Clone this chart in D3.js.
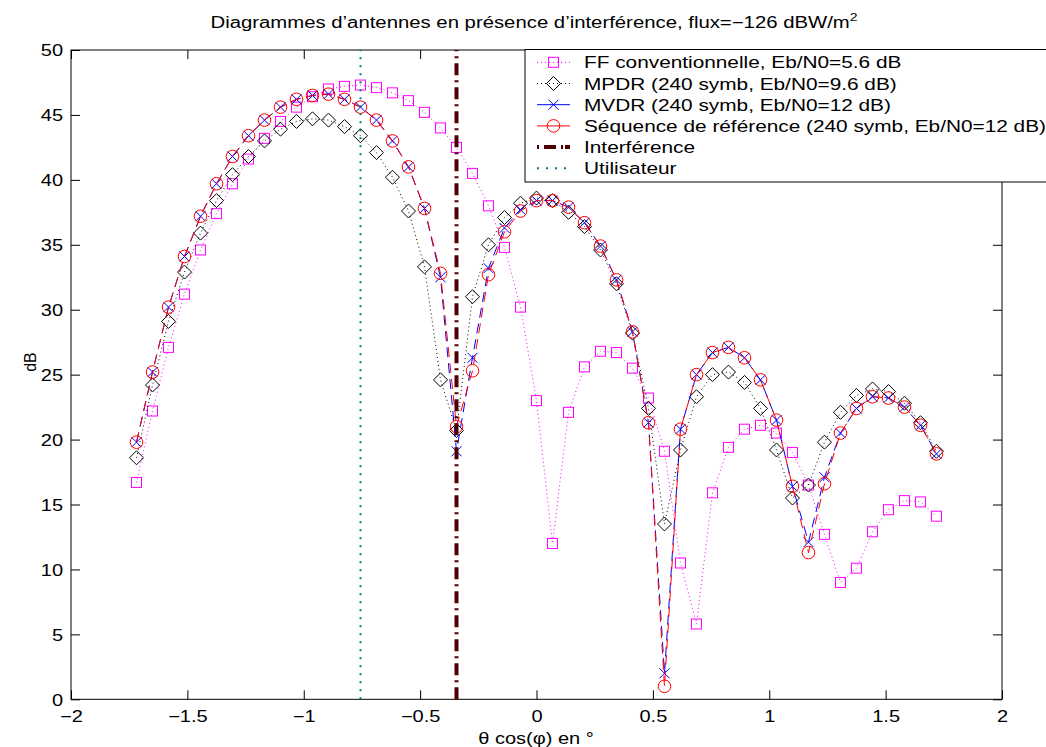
<!DOCTYPE html>
<html><head><meta charset="utf-8">
<script src="https://cdn.jsdelivr.net/npm/d3@7"></script>
<style>
html,body{margin:0;padding:0;background:#fff;overflow:hidden}
text{font-family:"Liberation Sans",Arial,Helvetica,sans-serif;fill:#000}
</style></head><body><svg id="c" width="1046" height="747"></svg>
<script>
// ---- data ----
const thetaCos = [-1.7185,-1.6498,-1.5810,-1.5123,-1.4435,-1.3748,-1.3061,-1.2373,-1.1686,-1.0998,
  -1.0311,-0.9624,-0.8936,-0.8249,-0.7561,-0.6874,-0.6187,-0.5499,-0.4812,-0.4124,
  -0.3437,-0.2750,-0.2062,-0.1375,-0.0687,0,0.0687,0.1375,0.2062,0.2750,
  0.3437,0.4124,0.4812,0.5499,0.6187,0.6874,0.7561,0.8249,0.8936,0.9624,
  1.0311,1.0998,1.1686,1.2373,1.3061,1.3748,1.4435,1.5123,1.5810,1.6498,1.7185];
const ffConv = [16.7,22.2,27.1,31.2,34.6,37.4,39.7,41.6,43.2,44.5,
  45.6,46.4,47.0,47.2,47.3,47.1,46.7,46.1,45.2,44.0,
  42.5,40.5,38.0,34.8,30.2,23.0,12.0,22.1,25.6,26.8,
  26.7,25.5,23.2,19.1,10.5,5.8,15.9,19.4,20.8,21.1,
  20.5,19.0,16.5,12.7,9.0,10.1,12.9,14.6,15.3,15.2,14.1];
const mpdr = [18.6,24.2,29.1,32.9,35.9,38.4,40.4,41.8,43.0,43.9,
  44.5,44.7,44.6,44.1,43.4,42.1,40.2,37.6,33.3,24.6,
  20.7,31.0,35.0,37.1,38.2,38.6,38.4,37.5,36.4,34.6,
  32.0,28.2,22.4,13.5,19.2,23.3,25.0,25.2,24.4,22.4,
  19.2,15.5,16.5,19.8,22.1,23.4,23.9,23.7,22.8,21.3,19.1];
const mvdr = [19.8,25.2,30.2,34.1,37.2,39.7,41.8,43.4,44.6,45.6,
  46.2,46.5,46.6,46.2,45.6,44.6,43.0,41.0,37.8,32.5,
  19.1,26.3,33.2,36.3,37.7,38.4,38.4,37.9,36.7,34.9,
  32.3,28.3,21.3,2.0,20.8,25.0,26.7,27.1,26.3,24.6,
  21.5,16.4,12.1,17.1,20.5,22.4,23.3,23.2,22.5,21.1,18.9];
const seqRef = [19.8,25.2,30.2,34.1,37.2,39.7,41.8,43.4,44.6,45.6,
  46.2,46.5,46.6,46.2,45.6,44.6,43.0,41.0,37.8,32.8,
  21.0,25.3,32.7,36.0,37.6,38.4,38.4,37.9,36.7,34.9,
  32.3,28.3,21.3,1.0,20.8,25.0,26.7,27.1,26.3,24.6,
  21.5,16.4,11.3,16.6,20.5,22.4,23.3,23.2,22.5,21.1,18.9];
const interfX = -0.3437;
const userX = -0.7561;
const xTicks = [-2,-1.5,-1,-0.5,0,0.5,1,1.5,2];
const yTicks = [0,5,10,15,20,25,30,35,40,45,50];
const legendLabels = ["FF conventionnelle, Eb/N0=5.6 dB","MPDR (240 symb, Eb/N0=9.6 dB)",
  "MVDR (240 symb, Eb/N0=12 dB)","Séquence de référence (240 symb, Eb/N0=12 dB)","Interférence","Utilisateur"];

// ---- layout ----
const svg = d3.select("#c");
const L=71, R=1002, T=50, B=699.3;
const x = d3.scaleLinear().domain([-2,2]).range([L,R]);
const y = d3.scaleLinear().domain([0,50]).range([B,T]);
const FS = 16;
function stretch(sel, f){ sel.each(function(){ const w=this.getComputedTextLength(); this.setAttribute("textLength", w*f); this.setAttribute("lengthAdjust","spacingAndGlyphs"); }); }
const fmt = d => d3.format("")(d);

// axes
const gx = svg.append("g").attr("transform",`translate(0,${B})`).call(d3.axisBottom(x).tickValues(xTicks).tickSize(-9).tickFormat(fmt));
const gxt = svg.append("g").attr("transform",`translate(0,${T})`).call(d3.axisTop(x).tickValues(xTicks).tickSize(-9).tickFormat(""));
const gy = svg.append("g").attr("transform",`translate(${L},0)`).call(d3.axisLeft(y).tickValues(yTicks).tickSize(-9).tickFormat(fmt));
const gyr = svg.append("g").attr("transform",`translate(${R},0)`).call(d3.axisRight(y).tickValues(yTicks).tickSize(-9).tickFormat(""));
[gx,gxt,gy,gyr].forEach(g=>{ g.select(".domain").remove(); g.selectAll(".tick line").attr("stroke","#000").attr("stroke-width",1); });
gx.selectAll("text").attr("y",22.7).attr("dy",null).style("font-size",FS+"px").attr("fill","#000");
gy.selectAll("text").attr("x",-8).attr("dy","0.36em").style("font-size",FS+"px").attr("fill","#000");
svg.append("rect").attr("x",L).attr("y",T).attr("width",R-L).attr("height",B-T).attr("fill","none").attr("stroke","#000").attr("stroke-width",1);
stretch(gx.selectAll("text"), 1.25);
stretch(gy.selectAll("text"), 1.25);

// labels
const title = svg.append("text").attr("x",534).attr("y",28).attr("text-anchor","middle").style("font-size",FS+"px");
title.append("tspan").text("Diagrammes d’antennes en présence d’interférence, flux=−126 dBW/m");
title.append("tspan").attr("dy",-7).style("font-size","11px").text("2");
stretch(title, 1.27);
const xl = svg.append("text").attr("x",536).attr("y",744).attr("text-anchor","middle").style("font-size",FS+"px").text("θ cos(φ) en °");
stretch(xl, 1.25);
const yl = svg.append("text").attr("transform","translate(36,362) rotate(-90)").attr("text-anchor","middle").style("font-size",FS+"px").text("dB");

// series
const series = [
  {vals:ffConv, color:"#ff00ff", dash:"1,3", marker:"square"},
  {vals:mpdr, color:"#000000", dash:"1,3", marker:"diamond"},
  {vals:mvdr, color:"#0000ff", dash:"10,6", marker:"cross"},
  {vals:seqRef, color:"#ff0000", dash:"10,6", marker:"circle"}
];
function drawMarker(g, type, color){
  if(type==="square") g.append("rect").attr("x",-5).attr("y",-5).attr("width",10).attr("height",10).attr("fill","none").attr("stroke",color);
  else if(type==="diamond") g.append("path").attr("d","M0,-7L7,0L0,7L-7,0Z").attr("fill","none").attr("stroke",color);
  else if(type==="cross") g.append("path").attr("d","M-5,-5L5,5M-5,5L5,-5").attr("fill","none").attr("stroke",color);
  else if(type==="circle") g.append("circle").attr("r",6.3).attr("fill","none").attr("stroke",color);
}
series.forEach(s=>{
  const line = d3.line().x((d,i)=>x(thetaCos[i])).y(d=>y(d));
  svg.append("path").datum(s.vals).attr("d",line).attr("fill","none").attr("stroke",s.color).attr("stroke-width",1).attr("stroke-dasharray",s.dash);
  svg.append("g").selectAll("g").data(s.vals).join("g")
    .attr("transform",(d,i)=>`translate(${x(thetaCos[i])},${y(d)})`)
    .each(function(){ drawMarker(d3.select(this), s.marker, s.color); });
});
// vertical lines
svg.append("line").attr("x1",x(interfX)).attr("x2",x(interfX)).attr("y1",y(0)).attr("y2",y(50))
  .attr("stroke","#4d0000").attr("stroke-width",4).attr("stroke-dasharray","12,5,2,5");
svg.append("line").attr("x1",x(userX)).attr("x2",x(userX)).attr("y1",y(0)).attr("y2",y(50))
  .attr("stroke","#008080").attr("stroke-width",2).attr("stroke-dasharray","2,6");

// legend
const lg = svg.append("g");
lg.append("rect").attr("x",525).attr("y",49.5).attr("width",540).attr("height",132.5).attr("fill","#fff").attr("stroke","#000");
const legStyles = [
  {color:"#ff00ff", dash:"1,3", w:1, marker:"square"},
  {color:"#000000", dash:"1,3", w:1, marker:"diamond"},
  {color:"#0000ff", dash:null, w:1, marker:"cross"},
  {color:"#ff0000", dash:null, w:1, marker:"circle"},
  {color:"#4d0000", dash:"2,5,12,5,2", w:4, marker:null},
  {color:"#008080", dash:"2,7", w:2, marker:null}
];
legendLabels.forEach((lab,i)=>{
  const cy = 62.3 + i*21.2;
  const st = legStyles[i];
  lg.append("line").attr("x1",537).attr("x2",570).attr("y1",cy).attr("y2",cy).attr("stroke",st.color).attr("stroke-width",st.w).attr("stroke-dasharray",st.dash);
  if(st.marker){ const mg = lg.append("g").attr("transform",`translate(553.5,${cy})`); drawMarker(mg, st.marker, st.color); }
  const t = lg.append("text").attr("x",584).attr("y",cy+6).style("font-size",FS+"px").text(lab);
  stretch(t, 1.30);
});
</script></body></html>
